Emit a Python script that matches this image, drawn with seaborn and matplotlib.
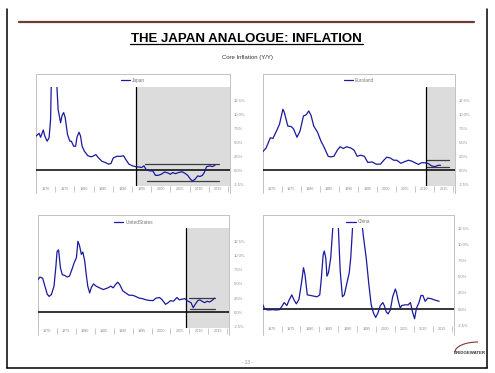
import numpy as np
import pandas as pd
import seaborn as sns
import matplotlib.pyplot as plt
from matplotlib.patches import Arc

# core inflation, y/y %
japan_years = [1970.0, 1970.8, 1971.2, 1971.9, 1972.3, 1972.9, 1973.4, 1973.8, 1974.0, 1974.5,
               1975.0, 1975.4, 1975.75, 1976.4, 1976.8, 1977.2, 1977.6, 1978.2, 1978.8, 1979.2,
               1979.8, 1980.3, 1980.7, 1981.2, 1981.6, 1982.0, 1982.6, 1983.5, 1984.4, 1985.0,
               1985.6, 1986.3, 1987.2, 1988.0, 1988.9, 1989.5, 1990.1, 1991.0, 1992.1, 1992.8,
               1993.4, 1994.2, 1995.1, 1995.9, 1996.8, 1997.5, 1998.1, 1998.7, 1999.6, 2000.4,
               2001.1, 2001.8, 2002.6, 2003.5, 2004.4, 2005.0, 2005.6, 2006.3, 2007.1, 2008.0,
               2008.7, 2009.5, 2010.1, 2010.7, 2011.4, 2012.1, 2012.7, 2013.3, 2013.8, 2014.4,
               2015.3, 2015.9, 2016.6]
japan_cpi = [6.1, 6.6, 5.9, 7.2, 6.1, 5.2, 5.8, 9.1, 16.5, 22.0,
             20.0, 15.5, 10.9, 8.5, 9.8, 10.3, 9.4, 6.4, 5.2, 5.2,
             4.3, 4.3, 6.0, 6.8, 6.1, 4.3, 3.4, 2.6, 2.4, 2.6,
             2.8, 2.2, 1.6, 1.4, 1.1, 1.2, 2.2, 2.5, 2.5, 2.6,
             1.9, 1.1, 0.8, 0.65, 0.6, 0.5, 0.8, 0.1, -0.1, -0.1,
             -0.9, -0.9, -0.7, -0.3, -0.5, -0.7, -0.4, -0.6, -0.4, -0.25,
             -0.5, -0.9, -1.5, -1.9, -1.6, -1.0, -1.1, -0.9, -0.4, 0.65,
             0.8, 0.65, 0.9]

euro_years = [1970.0, 1970.9, 1972.0, 1972.7, 1973.6, 1974.4, 1975.3, 1975.7, 1976.6, 1977.5,
              1978.1, 1979.0, 1979.8, 1980.7, 1981.4, 1982.1, 1982.7, 1983.4, 1984.4, 1985.3,
              1986.0, 1987.2, 1987.9, 1988.7, 1989.6, 1990.3, 1991.2, 1992.0, 1993.1, 1994.0,
              1994.8, 1995.7, 1996.7, 1997.6, 1998.7, 1999.8, 2000.9, 2001.8, 2002.6, 2003.5,
              2004.4, 2005.2, 2006.3, 2007.1, 2008.3, 2009.1, 2010.3, 2010.9, 2011.7, 2012.6,
              2013.5, 2014.3, 2015.2, 2016.1, 2016.7]
euro_cpi = [3.3, 4.0, 5.8, 5.7, 7.0, 8.2, 10.9, 10.3, 7.9, 7.8,
            7.4, 5.9, 7.0, 9.7, 9.9, 10.6, 9.8, 7.9, 6.8, 5.2,
            4.3, 2.5, 2.4, 2.5, 3.6, 4.2, 3.9, 4.2, 4.0, 3.6,
            2.5, 2.7, 2.5, 1.4, 1.5, 1.1, 1.1, 1.8, 2.35, 2.2,
            1.8, 1.8, 1.25, 1.5, 1.8, 1.65, 1.25, 1.05, 1.35, 1.35,
            1.2, 0.8, 0.65, 0.9, 0.9]

us_years = [1970.0, 1970.6, 1971.3, 1971.9, 1972.5, 1973.0, 1973.6, 1974.3, 1974.8, 1975.1,
            1975.5, 1976.0, 1976.5, 1977.1, 1977.8, 1978.4, 1979.0, 1979.6, 1980.2, 1980.6,
            1981.0, 1981.5, 1981.9, 1982.4, 1982.8, 1983.2, 1983.7, 1984.1, 1984.7, 1985.4,
            1986.3, 1987.3, 1988.5, 1989.3, 1989.9, 1990.4, 1991.1, 1991.6, 1992.4, 1993.2,
            1994.1, 1995.0, 1995.8, 1996.7, 1997.6, 1998.5, 1999.3, 2000.4, 2001.2, 2002.1,
            2002.8, 2003.7, 2004.4, 2005.0, 2005.8, 2006.7, 2007.3, 2008.0, 2008.8, 2009.6,
            2010.4, 2011.0, 2011.5, 2012.2, 2012.7, 2013.3, 2014.0, 2014.7, 2015.3, 2015.9,
            2016.6]
us_cpi = [5.7, 6.2, 6.0, 4.6, 3.2, 2.8, 3.1, 4.6, 8.1, 10.7,
          11.0, 7.8, 6.6, 6.5, 6.2, 6.4, 7.5, 8.7, 9.6, 12.5,
          11.8, 10.2, 10.6, 9.0, 6.6, 4.6, 3.4, 4.3, 5.0, 4.6,
          4.3, 4.0, 4.3, 4.6, 4.3, 4.8, 5.3, 4.9, 3.8, 3.4,
          3.0, 3.0, 2.8, 2.5, 2.4, 2.2, 2.1, 2.05, 2.5, 2.6,
          2.2, 1.4, 1.7, 2.05, 1.95, 2.6, 2.2, 2.3, 2.4, 1.95,
          1.7, 0.8, 1.4, 2.05, 2.2, 1.95, 1.7, 1.95, 1.8, 2.05,
          2.5]

china_years = [1970.0, 1970.5, 1971.4, 1972.7, 1973.6, 1974.4, 1975.0, 1975.7, 1976.4, 1977.0,
               1977.7, 1978.3, 1978.9, 1979.6, 1980.2, 1980.8, 1981.2, 1981.8, 1982.7, 1983.5,
               1984.4, 1985.1, 1985.5, 1986.0, 1986.3, 1986.7, 1987.0, 1987.4, 1988.0, 1988.6,
               1989.0, 1989.5, 1990.0, 1990.5, 1991.1, 1991.6, 1992.2, 1992.9, 1993.3, 1993.8,
               1994.5, 1995.3, 1996.0, 1996.6, 1997.4, 1998.1, 1998.7, 1999.3, 1999.9, 2000.5,
               2001.1, 2001.8, 2002.2, 2002.7, 2003.2, 2003.8, 2004.4, 2005.1, 2005.4, 2005.9,
               2006.4, 2006.8, 2007.7, 2008.5, 2009.1, 2009.6, 2010.2, 2010.7, 2011.3, 2011.9,
               2012.4, 2013.0, 2013.7, 2014.6, 2015.5, 2016.1, 2016.7]
china_cpi = [0.7, 0.0, -0.15, -0.1, -0.15, -0.1, 0.35, 1.0, 0.55, 1.4,
             2.2, 1.4, 0.8, 1.5, 3.8, 6.4, 5.3, 2.2, 2.1, 2.0,
             1.9, 2.2, 4.6, 8.4, 9.0, 7.9, 5.1, 5.6, 7.9, 13.0,
             19.0, 18.0, 13.0, 6.0, 1.9, 2.2, 3.8, 5.6, 7.9, 12.8,
             22.0, 20.0, 15.0, 11.5, 7.9, 3.8, 0.7, -0.6, -1.3, -0.6,
             0.5, 1.0, 0.5, -0.45, -0.75, -0.1, 1.9, 3.1, 2.6, 1.2,
             0.15, 0.55, 0.65, 0.65, 1.0, -0.35, -1.5, 0.15, 0.9, 2.1,
             2.1, 1.2, 1.7, 1.6, 1.4, 1.3, 1.2]

# analogue start (vertical line) and the +/- band lines: (level, from, to)
japan_start, japan_bands = 1996.0, [(1.07, 1998.5, 2017.7), (-1.96, 1999.0, 2017.7)]
euro_start, euro_bands = 2012.8, [(1.78, 2012.9, 2018.9), (0.6, 2012.9, 2018.9)]
us_start, us_bands = 2009.2, [(2.5, 2009.9, 2016.7), (0.6, 2010.2, 2016.7)]

year_labels = ["1970", "1975", "1980", "1985", "1990", "1995", "2000", "2005", "2010", "2015"]
pct_ticks = [-2.5, 0.0, 2.5, 5.0, 7.5, 10.0, 12.5]
pct_labels = ["-2.5%", "0.0%", "2.5%", "5.0%", "7.5%", "10.0%", "12.5%"]

W, H = 495, 373
LINE = "#1a1a9e"
GREY_TXT = "#8a8a8a"

sns.set_theme(style="white")
plt.rcParams["font.family"] = ["Liberation Sans", "DejaVu Sans"]

fig = plt.figure(figsize=(W / 100, H / 100), dpi=100)
fig.patch.set_facecolor("white")

# page furniture, drawn in pixel coordinates
page = fig.add_axes([0, 0, 1, 1])
page.set_xlim(0, W)
page.set_ylim(H, 0)
page.axis("off")
page.plot([6.5, 6.5], [9, 368], color="black", lw=1.1)
page.plot([487, 487], [9, 368], color="black", lw=1.1)
page.plot([6.5, 487], [368, 368], color="black", lw=1.1)
page.plot([19, 474], [21.7, 21.7], color="#6e3a36", lw=1.6)
page.text(246.5, 41.5, "THE JAPAN ANALOGUE: INFLATION", ha="center", va="baseline",
          fontsize=9.5, fontweight="bold", color="black")
page.plot([130, 363], [43.5, 43.5], color="black", lw=0.9)
page.text(247, 57.5, "Core Inflation (Y/Y)", ha="center", va="center", fontsize=4.3, color="#333333")
page.text(247, 363, "- 13 -", ha="center", va="center", fontsize=3.3, color="#888888")
page.text(486, 353, "BRIDGEWATER", ha="right", va="center", fontsize=3.2,
          fontweight="bold", color="#333333")
page.add_patch(Arc((478, 352), 46, 20, theta1=180, theta2=270, color="#7a3a36", lw=0.8))

panels = [
    dict(name="Japan", years=japan_years, vals=japan_cpi, start=japan_start, bands=japan_bands,
         plot=(36, 230, 87.4, 186.0), ylim=(-2.8, 14.8), frame=(73.5, 193), legend_y=80.3),
    dict(name="Euroland", years=euro_years, vals=euro_cpi, start=euro_start, bands=euro_bands,
         plot=(262.7, 455, 87.4, 186.0), ylim=(-2.8, 14.8), frame=(73.5, 193), legend_y=80.3),
    dict(name="UnitedStates", years=us_years, vals=us_cpi, start=us_start, bands=us_bands,
         plot=(37.7, 229.3, 228.2, 328.2), ylim=(-2.8, 14.8), frame=(215, 335), legend_y=222.3),
    dict(name="China", years=china_years, vals=china_cpi, start=None, bands=[],
         plot=(262.7, 453.5, 228.4, 325.8), ylim=(-2.6, 12.5), frame=(215, 335), legend_y=222.0),
]

for p in panels:
    x0, x1, yt, yb = p["plot"]
    ft, fb = p["frame"]
    page.plot([x0, x0, x1, x1], [fb, ft, ft, fb], color="#b8b8b8", lw=0.6)

    ax = fig.add_axes([x0 / W, 1 - yb / H, (x1 - x0) / W, (yb - yt) / H])
    ax.set_facecolor("none")
    df = pd.DataFrame({"year": p["years"], "cpi": p["vals"]})

    if p["start"] is not None:
        ax.axvspan(p["start"], 2021, color="#dcdcdc", lw=0, zorder=0)
        ax.axvline(p["start"], color="black", lw=0.9, zorder=3)
    for level, b0, b1 in p["bands"]:
        ax.plot([b0, b1], [level, level], color="#3c3c3c", lw=0.9, zorder=2)
    ax.axhline(0, color="black", lw=1.1, zorder=2)

    sns.lineplot(data=df, x="year", y="cpi", ax=ax, color=LINE, lw=0.9,
                 label=p["name"], zorder=4)

    ax.set_xlim(1970, 2020.5)
    ax.set_ylim(*p["ylim"])
    ax.set_xlabel("")
    ax.set_ylabel("")
    for s in ax.spines.values():
        s.set_visible(False)

    ax.set_xticks(np.arange(1975, 2021, 5))
    ax.set_xticklabels([])
    ax.set_xticks(np.arange(1972.5, 2020, 5), minor=True)
    ax.set_xticklabels(year_labels, minor=True)
    ax.tick_params(axis="x", which="major", bottom=True, length=4, width=0.5,
                   color="#b0b0b0", direction="out")
    ax.tick_params(axis="x", which="minor", bottom=True, length=0, pad=0.8,
                   labelsize=2.7, labelcolor=GREY_TXT)

    ax.set_yticks(pct_ticks)
    ax.set_yticklabels(pct_labels)
    ax.yaxis.tick_right()
    ax.tick_params(axis="y", length=0, pad=3, labelsize=3.0, labelcolor=GREY_TXT)

    ax.legend(loc="center", bbox_to_anchor=((x0 + x1) / 2 / W, 1 - p["legend_y"] / H),
              bbox_transform=fig.transFigure, frameon=False, fontsize=3.4,
              handlelength=2.0, handletextpad=0.4, borderpad=0, labelcolor="#777777")

fig.savefig("out.png", dpi=100)
